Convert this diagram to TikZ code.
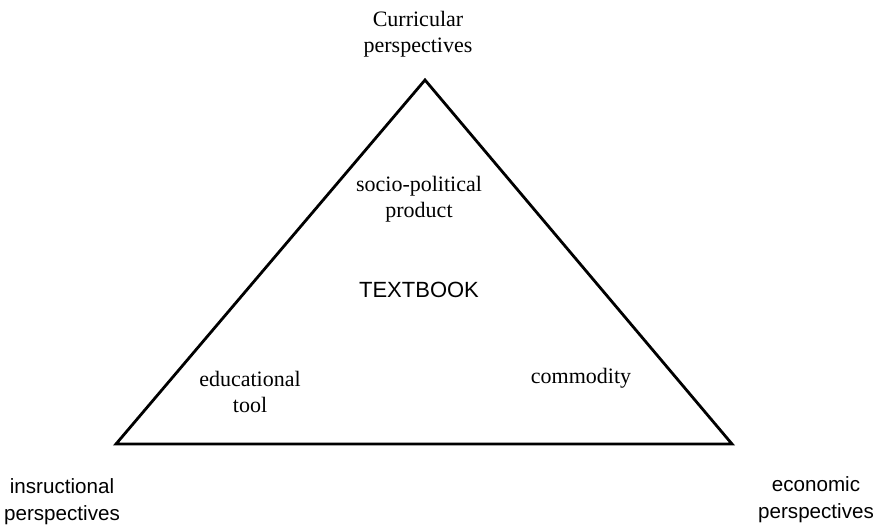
\documentclass[tikz,border=0pt]{standalone}
\usepackage{fontspec}
\setmainfont{Liberation Serif}
\newfontfamily\labelsans{Liberation Sans}
\usetikzlibrary{positioning}

\tikzset{
  serif label/.style={align=center, font=\fontsize{11}{13}\selectfont, inner sep=0pt},
  sans label/.style={align=center, font=\labelsans\fontsize{10.3}{13.5}\selectfont, inner sep=0pt},
  side/.style={line width=1.4pt, line join=miter}
}

\begin{document}
\begin{tikzpicture}[x=0.5pt, y=-0.5pt]
                \useasboundingbox (0,0) rectangle (881,530);
                % Triangle
                \coordinate (apex) at (425,80);
                \coordinate (leftcorner) at (116,444);
                \coordinate (rightcorner) at (732,444);
                \draw[side] (apex) -- (leftcorner) -- (rightcorner) -- cycle;
                
                % Corners
                \node[serif label] (curricular) at (418,34) {Curricular\\perspectives};
                \node[sans label] (instructional) at (62,502) {insructional\\perspectives};
                \node[sans label] (economic) at (816,500) {economic\\perspectives};
                
                % Inside
                \node[serif label] (sociopolitical) at (419,199) {socio-political\\product};
                \node[sans label, font=\labelsans\fontsize{11}{13}\selectfont] (textbook) at (419,290) {TEXTBOOK};
                \node[serif label] (educational) at (250,392) {educational\\tool};
                \node[serif label] (commodity) at (581,378) {commodity};
            \end{tikzpicture}
\end{document}
